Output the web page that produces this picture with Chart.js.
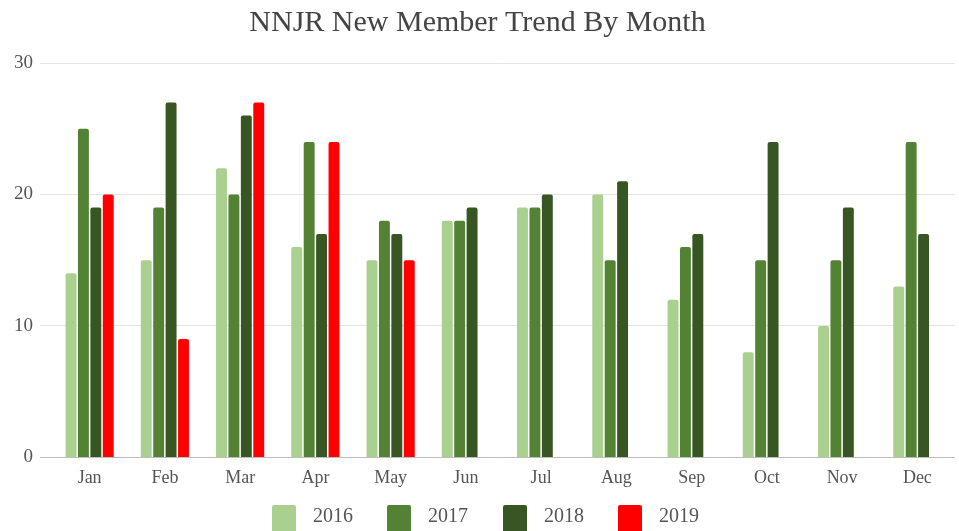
<!DOCTYPE html>
<html>
<head>
<meta charset="utf-8">
<script src="https://cdn.jsdelivr.net/npm/chart.js@4/dist/chart.umd.min.js"></script>
<style>
  html, body { margin:0; padding:0; background:#fff; overflow:hidden; }
  #wrap { position:relative; width:959px; height:531px; }
  #legend { position:absolute; left:0; top:0; width:959px; height:531px; pointer-events:none; }
  .sw { position:absolute; top:505px; width:24px; height:30px; border-radius:2px; }
  .lt { position:absolute; top:504px; font-family:"Liberation Serif", serif; font-size:20px; color:#555; line-height:22px; }
</style>
</head>
<body>
<div id="wrap">
  <canvas id="c" width="959" height="531"></canvas>
  <div id="legend"></div>
</div>
<script>
const months = ["Jan","Feb","Mar","Apr","May","Jun","Jul","Aug","Sep","Oct","Nov","Dec"];
const seriesNames = ["2016","2017","2018","2019"];
const v2016 = [14,15,22,16,15,18,19,20,12,8,10,13];
const v2017 = [25,19,20,24,18,18,19,15,16,15,15,24];
const v2018 = [19,27,26,17,17,19,20,21,17,24,19,17];
const v2019 = [20,9,27,24,15,null,null,null,null,null,null,null];
const yTicks = [0,10,20,30];
const colors = ["#a9d08e","#548235","#375623","#ff0000"];

const allValues = [v2016, v2017, v2018, v2019];
const datasets = seriesNames.map((name, i) => ({
  label: name,
  data: allValues[i],
  backgroundColor: colors[i],
  borderRadius: {topLeft: 2, topRight: 2, bottomLeft: 0, bottomRight: 0},
  borderSkipped: 'bottom',
  categoryPercentage: 0.66,
  barPercentage: 0.88
}));

new Chart(document.getElementById('c'), {
  type: 'bar',
  data: { labels: months, datasets: datasets },
  options: {
    responsive: false,
    animation: false,
    layout: { padding: { left: 0, right: 4, top: 0, bottom: 32 } },
    plugins: {
      legend: { display: false },
      tooltip: { enabled: false },
      title: {
        display: true,
        text: "NNJR New Member Trend By Month",
        color: "#444",
        font: { family: "Liberation Serif", size: 30, weight: 'normal' },
        padding: { top: 5, bottom: 22 }
      }
    },
    scales: {
      x: {
        grid: { display: false, drawTicks: false },
        border: { display: false },
        ticks: { color: "#555", font: { family: "Liberation Serif", size: 18 }, padding: 10 }
      },
      y: {
        min: 0, max: 30,
        afterBuildTicks: (s) => { s.ticks = yTicks.map(v => ({ value: v })); },
        afterFit: (s) => { s.width = 52; },
        border: { display: false },
        grid: {
          color: (ctx) => ctx.tick && ctx.tick.value === 0 ? "#bdbdbd" : "#e4e4e4",
          tickLength: 12,
          lineWidth: 1
        },
        ticks: { color: "#555", font: { family: "Liberation Serif", size: 19 }, padding: 7 }
      }
    }
  }
});

const legend = document.getElementById('legend');
const swX = [272, 387, 503, 618];
seriesNames.forEach((name, i) => {
  const sw = document.createElement('div');
  sw.className = 'sw';
  sw.style.left = swX[i] + 'px';
  sw.style.background = colors[i];
  legend.appendChild(sw);
  const t = document.createElement('div');
  t.className = 'lt';
  t.style.left = (swX[i] + 41) + 'px';
  t.textContent = name;
  legend.appendChild(t);
});
</script>
</body>
</html>
